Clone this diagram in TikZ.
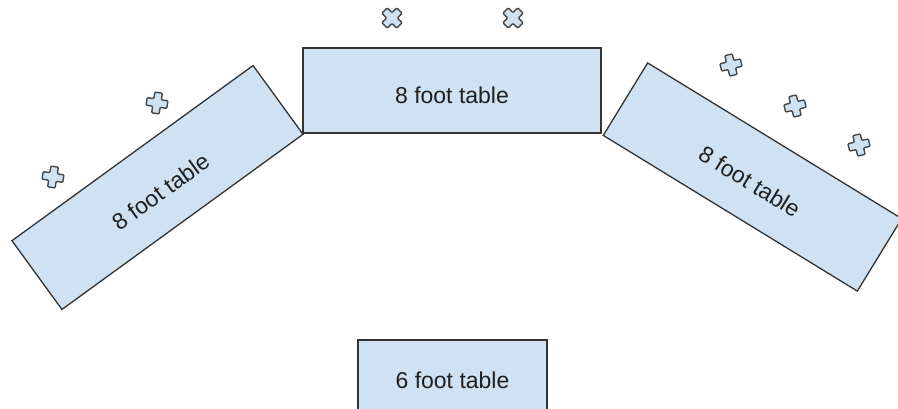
\documentclass[tikz,border=0pt]{standalone}
\usepackage{fontspec}
\setmainfont{Liberation Sans}
\usepackage{xcolor}
\usepackage{tikz}
\usetikzlibrary{positioning}

\definecolor{tablefill}{HTML}{CFE2F3}
\definecolor{tableline}{HTML}{333333}
\definecolor{tabletext}{HTML}{1F1F1F}

\begin{document}
\begin{tikzpicture}[x=1pt, y=1pt,
    tablebox/.style={draw=tableline, fill=tablefill, line width=1.3pt,
      minimum width=298pt, minimum height=85pt, inner sep=0pt,
      text height=27pt, text depth=0pt,
      text=tabletext, font=\fontsize{23}{28}\selectfont},
    seat/.pic={
      \draw[draw=tableline!90!white, fill=tablefill, line width=1.4pt, rounded corners=1pt]
        (3.8,10.5) -- (3.8,3.8) -- (10.5,3.8) -- (10.5,-3.8) -- (3.8,-3.8)
        -- (3.8,-10.5) -- (-3.8,-10.5) -- (-3.8,-3.8) -- (-10.5,-3.8)
        -- (-10.5,3.8) -- (-3.8,3.8) -- (-3.8,10.5) -- cycle;
    }]
    \useasboundingbox (0,0) rectangle (898,408);
    % tables
    \node(top) at (452,317.5) [tablebox] {8 foot table};
    \node(left) at (157.5,220.5) [tablebox, rotate=36] {8 foot table};
    \node(right) at (752.5,231) [tablebox, rotate=-31.5] {8 foot table};
    \node(bottom) at (452.5,33) [tablebox, minimum width=189pt, minimum height=70pt] {6 foot table};
    % seats
    \pic[rotate=45] (seatA) at (392,390) {seat};
    \pic[rotate=45] (seatB) at (513,390) {seat};
    \pic[rotate=81] (seatC) at (157,305) {seat};
    \pic[rotate=81] (seatD) at (53,231) {seat};
    \pic[rotate=13.5] (seatE) at (731,343) {seat};
    \pic[rotate=13.5] (seatF) at (795,302) {seat};
    \pic[rotate=13.5] (seatG) at (859,263) {seat};
\end{tikzpicture}
\end{document}
